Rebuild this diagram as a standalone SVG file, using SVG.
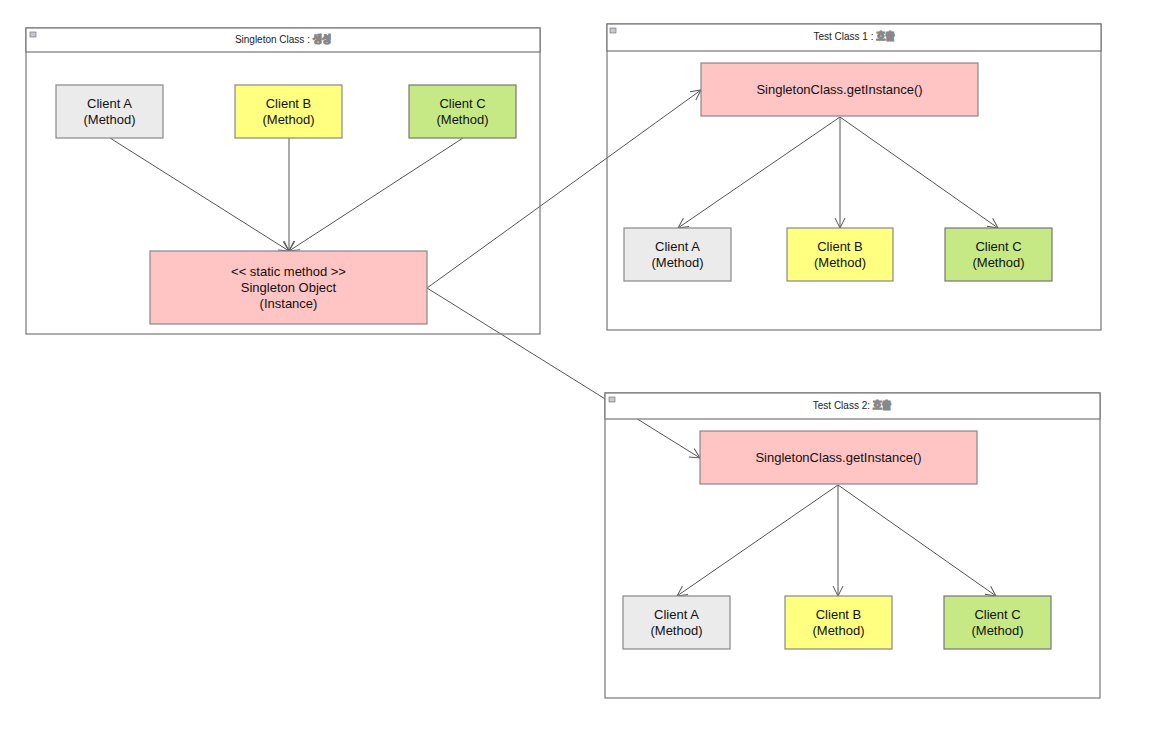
<svg xmlns="http://www.w3.org/2000/svg" width="1161" height="735" viewBox="0 0 1161 735">
<defs>
<marker id="arr" viewBox="0 0 12 12" refX="11" refY="6" markerWidth="12" markerHeight="12" markerUnits="userSpaceOnUse" orient="auto">
<path d="M1,1 L11,6 L1,11" fill="none" stroke="#555" stroke-width="1"/>
</marker>
</defs>
<style>
.frame{fill:none;stroke:#777;stroke-width:1.2}
.hdr{fill:#fff;stroke:#777;stroke-width:1.2}
.icon{fill:#c8c8d0;stroke:#666;stroke-width:0.6}
.ttl{font-family:"Liberation Sans","Noto Sans CJK KR",sans-serif;font-size:10px;fill:#222;text-anchor:middle}
.ttl tspan.b{font-family:"Noto Sans CJK KR",sans-serif;font-weight:700;fill:#000}
.lbl{font-family:"Liberation Sans","Noto Sans CJK KR",sans-serif;font-size:13px;fill:#111;text-anchor:middle}
.a{fill:#ebebeb;stroke:#888;stroke-width:1.2}
.b{fill:#ffff80;stroke:#888;stroke-width:1.2}
.c{fill:#c6e985;stroke:#777;stroke-width:1.2}
.p{fill:#ffc4c4;stroke:#888;stroke-width:1.2}
.ln{fill:none;stroke:#555;stroke-width:1;marker-end:url(#arr)}
</style>
<rect width="1161" height="735" fill="#fff"/>
<g id="connectors">
<line class="ln" x1="110" y1="138" x2="289" y2="251"/>
<line class="ln" x1="289" y1="138" x2="289" y2="251"/>
<line class="ln" x1="463" y1="138" x2="289" y2="251"/>
<line class="ln" x1="427" y1="288" x2="701" y2="90"/>
<line class="ln" x1="427" y1="288" x2="700" y2="458"/>
<line class="ln" x1="840" y1="117" x2="678" y2="228"/>
<line class="ln" x1="840" y1="117" x2="840" y2="228"/>
<line class="ln" x1="840" y1="117" x2="998" y2="228"/>
<line class="ln" x1="838" y1="485" x2="677" y2="596"/>
<line class="ln" x1="838" y1="485" x2="838" y2="596"/>
<line class="ln" x1="838" y1="485" x2="996" y2="596"/>
</g>
<g id="frame-singleton">
<rect class="frame" x="26" y="28" width="514" height="306"/>
<rect class="hdr" x="26" y="28" width="514" height="24"/>
<rect class="icon" x="30" y="32" width="6" height="5"/>
<text class="ttl" x="283" y="43">Singleton Class : <tspan class="b">생성</tspan></text>
</g>
<g id="frame-test1">
<rect class="frame" x="607" y="24" width="494" height="306"/>
<rect class="hdr" x="607" y="24" width="494" height="27"/>
<rect class="icon" x="610" y="28" width="6" height="5"/>
<text class="ttl" x="854" y="40">Test Class 1 : <tspan class="b">호출</tspan></text>
</g>
<g id="frame-test2">
<rect class="frame" x="605" y="393" width="495" height="305"/>
<rect class="hdr" x="605" y="393" width="495" height="26"/>
<rect class="icon" x="609" y="397" width="6" height="5"/>
<text class="ttl" x="852" y="409">Test Class 2: <tspan class="b">호출</tspan></text>
</g>
<g id="s-clientA"><rect class="a" x="56" y="85" width="107" height="53"/><text class="lbl" x="109.5" y="108">Client A</text><text class="lbl" x="109.5" y="124">(Method)</text></g>
<g id="s-clientB"><rect class="b" x="235" y="85" width="107" height="53"/><text class="lbl" x="288.5" y="108">Client B</text><text class="lbl" x="288.5" y="124">(Method)</text></g>
<g id="s-clientC"><rect class="c" x="409" y="85" width="107" height="53"/><text class="lbl" x="462.5" y="108">Client C</text><text class="lbl" x="462.5" y="124">(Method)</text></g>
<g id="singleton-object"><rect class="p" x="150" y="251" width="277" height="73"/><text class="lbl" x="288.5" y="276">&lt;&lt; static method &gt;&gt;</text><text class="lbl" x="288.5" y="292">Singleton Object</text><text class="lbl" x="288.5" y="308">(Instance)</text></g>
<g id="t1-getinstance"><rect class="p" x="701" y="63" width="277" height="53"/><text class="lbl" x="839.5" y="94">SingletonClass.getInstance()</text></g>
<g id="t1-clientA"><rect class="a" x="624" y="228" width="107" height="53"/><text class="lbl" x="677.5" y="251">Client A</text><text class="lbl" x="677.5" y="267">(Method)</text></g>
<g id="t1-clientB"><rect class="b" x="787" y="228" width="106" height="53"/><text class="lbl" x="840" y="251">Client B</text><text class="lbl" x="840" y="267">(Method)</text></g>
<g id="t1-clientC"><rect class="c" x="945" y="228" width="107" height="53"/><text class="lbl" x="998.5" y="251">Client C</text><text class="lbl" x="998.5" y="267">(Method)</text></g>
<g id="t2-getinstance"><rect class="p" x="700" y="431" width="277" height="53"/><text class="lbl" x="838.5" y="462">SingletonClass.getInstance()</text></g>
<g id="t2-clientA"><rect class="a" x="623" y="596" width="107" height="53"/><text class="lbl" x="676.5" y="619">Client A</text><text class="lbl" x="676.5" y="635">(Method)</text></g>
<g id="t2-clientB"><rect class="b" x="785" y="596" width="107" height="53"/><text class="lbl" x="838.5" y="619">Client B</text><text class="lbl" x="838.5" y="635">(Method)</text></g>
<g id="t2-clientC"><rect class="c" x="944" y="596" width="107" height="53"/><text class="lbl" x="997.5" y="619">Client C</text><text class="lbl" x="997.5" y="635">(Method)</text></g>
</svg>
